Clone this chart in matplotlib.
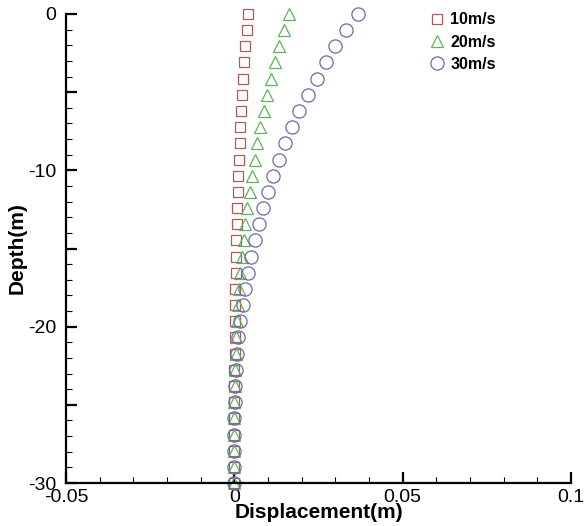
import matplotlib
matplotlib.use("Agg")
import matplotlib.pyplot as plt
from matplotlib.ticker import MultipleLocator, FuncFormatter

plt.rcParams['font.family'] = ['Liberation Sans', 'DejaVu Sans']

# depth of the nodes along the pile (m)
depth = [0, -1.03, -2.07, -3.10, -4.14, -5.17, -6.21, -7.24, -8.28, -9.31,
         -10.34, -11.38, -12.41, -13.45, -14.48, -15.52, -16.55, -17.59, -18.62, -19.66,
         -20.69, -21.72, -22.76, -23.79, -24.83, -25.86, -26.90, -27.93, -28.97, -30.0]

# displacement (m) for each wind speed
disp_10 = [0.0040, 0.0037, 0.0033, 0.0030, 0.0027, 0.0024, 0.0021, 0.0018, 0.0016, 0.0014,
           0.0012, 0.0011, 0.0009, 0.0007, 0.0006, 0.0005, 0.0004, 0.0003, 0.0002, 0.0001,
           0.0001, 0.00005, 0.0, 0.0, 0.0, 0.0, 0.0, 0.0, 0.0, 0.0]
disp_20 = [0.0162, 0.0149, 0.0133, 0.0121, 0.0108, 0.0097, 0.0087, 0.0077, 0.0068, 0.0060,
           0.0053, 0.0046, 0.0039, 0.0033, 0.0028, 0.0023, 0.0018, 0.0014, 0.0011, 0.0008,
           0.0006, 0.0004, 0.0002, 0.0001, 0.0, 0.0, 0.0, 0.0, 0.0, 0.0]
disp_30 = [0.0367, 0.0332, 0.0300, 0.0271, 0.0245, 0.0218, 0.0193, 0.0171, 0.0151, 0.0132,
           0.0115, 0.0099, 0.0085, 0.0072, 0.0060, 0.0049, 0.0040, 0.0032, 0.0025, 0.0018,
           0.0012, 0.0008, 0.0005, 0.0003, 0.0001, 0.0, 0.0, 0.0, 0.0, 0.0]

labels = ['10m/s', '20m/s', '30m/s']

fig = plt.figure(figsize=(5.88, 5.26), dpi=100)
ax = fig.add_axes([66 / 588, 1 - 483 / 526, (571 - 66) / 588, (483 - 14) / 526])

ax.plot(disp_10, depth, ls='none', marker='s', ms=6.5, mfc='none', mec='#b05a5a', mew=0.9,
        label=labels[0], clip_on=False)
ax.plot(disp_20, depth, ls='none', marker='^', ms=8, mfc='none', mec='#5fb35f', mew=0.9,
        label=labels[1], clip_on=False)
ax.plot(disp_30, depth, ls='none', marker='o', ms=9.5, mfc='none', mec='#6a6aaa', mew=0.9,
        label=labels[2], clip_on=False)

ax.set_xlim(-0.05, 0.1)
ax.set_ylim(-30, 0)

for side in ['top', 'right']:
    ax.spines[side].set_visible(False)
for side in ['left', 'bottom']:
    ax.spines[side].set_linewidth(1.6)

ax.xaxis.set_major_locator(MultipleLocator(0.05))
ax.xaxis.set_minor_locator(MultipleLocator(0.01))
ax.yaxis.set_major_locator(MultipleLocator(5))
ax.yaxis.set_minor_locator(MultipleLocator(1))
ax.xaxis.set_major_formatter(FuncFormatter(lambda v, p: '%g' % round(v, 3)))
ax.yaxis.set_major_formatter(FuncFormatter(lambda v, p: '%d' % v if round(v) % 10 == 0 else ''))

ax.tick_params(which='major', direction='in', length=8, width=1.6, labelsize=14)
ax.tick_params(axis='x', which='major', pad=4)
ax.tick_params(axis='y', which='major', pad=7)
ax.tick_params(which='minor', direction='in', length=4, width=0.8)

ax.set_xlabel('Displacement(m)', fontsize=15, fontweight='bold', labelpad=-2)
ax.set_ylabel('Depth(m)', fontsize=15, fontweight='bold', labelpad=1)

ax.legend(loc='upper left', bbox_to_anchor=(415 / 588, 1 + 2 / 526), bbox_transform=fig.transFigure,
          frameon=False, handlelength=1.0, handletextpad=0.3, labelspacing=0.45,
          prop={'weight': 'bold', 'size': 11.5}, markerscale=1.0)

fig.savefig('out.png', dpi=100)
